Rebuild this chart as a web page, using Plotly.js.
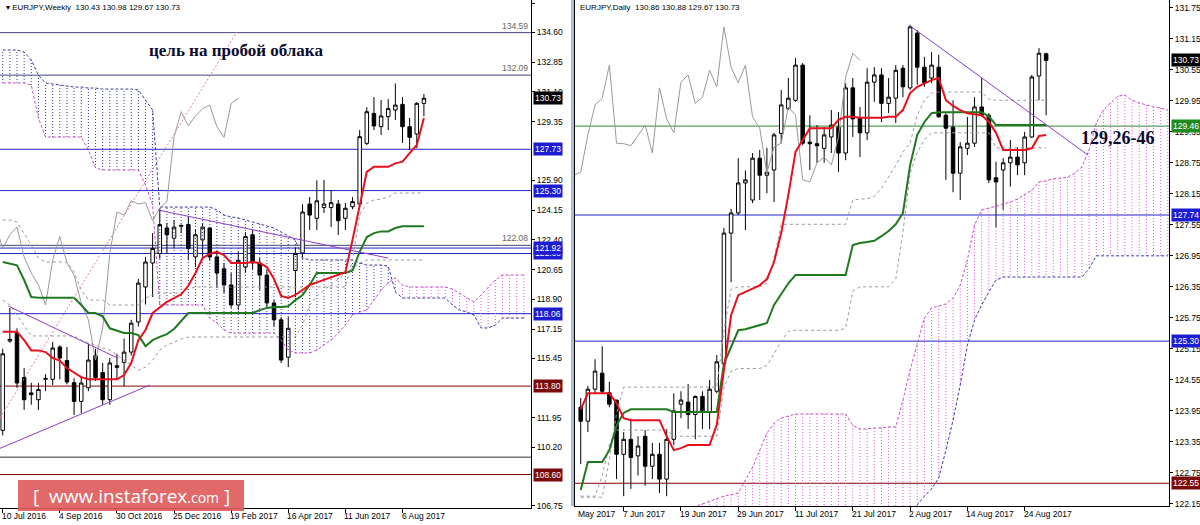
<!DOCTYPE html>
<html><head><meta charset="utf-8">
<script src="https://cdn.plot.ly/plotly-3.0.1.min.js"></script>
<style>html,body{margin:0;padding:0;background:#fff}#chart{width:1200px;height:525px}</style>
</head><body><div id="chart"></div>
<script>
// ===== WEEKLY (left) =====
const wkTickIdx = [0,8,16,24,32,40,48,56];
const wkTickText = ["10 Jul 2016","4 Sep 2016","30 Oct 2016","25 Dec 2016","19 Feb 2017","16 Apr 2017","11 Jun 2017","6 Aug 2017"];
const wkOpen  = [111.2,116.45,116.92,114.3,113.4,113.0,114.2,114.2,116.1,115.3,114.0,112.9,113.7,115.6,114.6,113.0,114.9,115.2,115.8,117.57,119.63,121.04,121.6,123.1,122.5,123.2,123.3,121.4,122.4,123.1,121.4,120.7,119.75,118.57,120.8,122.7,121.04,120.33,118.69,117.7,115.5,120.6,121.63,124.51,123.67,124.3,124.3,124.51,123.67,124.35,124.51,128.08,129.84,129.06,129.65,130.04,130.37,129.06,128.63,130.43];
const wkHigh  = [116.0,118.4,117.2,114.86,114.0,113.98,114.5,116.4,116.2,116.1,114.27,114.4,116.3,116.0,115.16,115.45,115.7,116.6,117.7,120.1,121.4,122.8,124.27,123.4,123.57,123.3,123.75,122.98,123.4,123.15,121.7,121.04,120.45,121.7,122.86,122.98,121.33,120.63,118.86,117.86,117.86,121.97,124.5,124.92,125.9,125.92,125.33,124.75,124.57,124.92,128.86,130.2,130.8,130.63,130.68,131.6,130.8,129.57,130.5,130.98];
const wkLow   = [110.9,116.35,113.7,112.4,112.7,112.4,113.5,113.86,114.2,113.9,112.1,112.2,113.5,114.1,112.7,112.7,114.2,113.8,115.6,117.3,118.6,119.04,121.3,121.6,121.9,122.8,121.2,120.8,121.4,121.2,119.57,119.27,118.4,118.27,120.45,120.63,119.45,118.45,117.3,115.16,114.92,119.04,121.3,122.98,122.98,123.98,123.16,122.69,122.98,124.2,124.4,127.98,128.86,128.57,128.86,129.45,128.1,127.69,127.8,129.67];
const wkClose = [115.7,116.55,113.98,113.0,113.3,113.6,114.25,116.04,115.45,114.04,112.9,113.98,115.33,114.3,113.0,115.16,115.0,115.8,117.5,119.86,121.1,121.9,123.3,122.7,123.15,123.25,121.9,122.7,123.15,121.4,120.45,119.75,118.57,121.2,122.6,121.04,120.33,118.69,117.7,115.33,117.2,121.6,124.04,123.86,124.7,124.51,124.59,123.53,124.26,124.65,128.47,129.94,129.1,129.69,130.12,130.33,129.06,128.43,130.43,130.73];
const wkTenkan = [117.0,117.0,117.0,116.5,115.9,115.9,115.8,115.45,115.3,114.86,114.57,114.33,114.2,114.2,114.2,114.2,114.2,114.45,115.16,116.5,117.1,118.1,118.45,118.75,118.98,119.2,119.7,120.45,121.33,121.57,121.7,121.5,121.04,121.04,121.04,121.1,121.04,120.8,120.1,119.1,118.98,119.16,119.45,119.75,119.9,120.04,120.2,120.33,120.5,122.4,124.45,126.4,126.7,126.7,126.7,126.9,127.0,127.5,127.98,129.57];
const wkKijun = [121.1,121.0,120.9,120.04,119.04,119.0,119.0,119.0,119.0,119.0,119.0,118.57,118.1,118.1,117.9,117.2,117.04,116.92,116.92,116.8,116.15,116.5,116.7,116.86,117.16,117.63,118.1,118.1,118.1,118.1,118.1,118.1,118.1,118.1,118.1,118.1,118.27,118.4,118.45,118.45,118.5,118.86,119.16,119.75,120.45,120.45,120.45,120.45,120.45,120.6,121.7,122.57,122.8,122.9,122.9,123.1,123.2,123.2,123.2,123.2];
const wkGrey1 = [123.57,123.57,123.45,122.8,122.1,121.33,121.1,121.1,121.1,121.1,120.51,119.45,118.86,118.86,118.86,118.57,118.57,118.57,118.57,118.57,118.98,119.16,119.27,119.27,119.27,119.27,119.51,119.63,119.63,119.63,119.63,119.63,119.63,119.63,119.63,119.63,119.63,119.63,119.63,119.63,119.63,119.63,119.63,119.63,119.63,119.63,119.63,119.63,119.63,121.22,123.86,124.57,124.75,124.8,124.92,125.16,125.16,125.16,125.16,125.16];
const wkGrey2 = [118.86,118.57,117.98,117.4,116.75,116.75,116.75,116.75,116.75,116.75,116.75,116.5,116.33,116.2,116.04,115.92,115.63,115.33,115.04,114.74,114.92,115.33,115.92,116.2,116.39,116.57,116.69,116.69,116.69,116.69,116.69,116.69,116.69,116.69,116.69,116.69,116.69,116.69,116.69,116.69,116.69,116.69,117.4,118.57,119.1,119.45,119.8,120.1,120.4,120.75,121.04,121.22,121.22,121.22,121.22,121.22,121.22,121.22,121.22,121.22];
const wkSpanA = [131.63,131.63,131.63,131.63,131.51,129.57,128.45,128.45,128.45,128.45,128.45,128.45,127.69,126.63,126.51,126.51,126.51,126.51,126.51,126.51,125.63,124.45,118.57,118.57,118.57,118.57,118.57,118.57,118.57,117.8,117.51,117.1,116.92,116.92,116.92,116.92,116.92,116.92,116.92,116.51,115.92,115.75,115.75,115.75,115.92,116.22,116.51,116.92,117.39,117.98,118.16,118.27,118.86,119.45,119.86,
  120.16,119.75,119.63,119.63,119.63,119.63,119.63,119.63,119.51,119.27,118.98,118.75,119.16,119.63,120.04,120.33,120.33,120.33,120.33];
const wkSpanB = [133.57,133.57,133.57,133.45,132.98,132.10,131.63,131.57,131.51,131.45,131.39,131.39,131.33,131.33,131.27,131.27,131.27,131.27,131.27,131.22,130.63,130.04,124.33,124.33,124.33,124.33,124.33,124.33,124.33,124.33,124.16,123.86,123.75,123.69,123.57,123.45,123.33,123.22,123.10,122.86,122.63,122.39,121.33,121.22,121.22,121.22,121.22,121.22,121.22,121.22,121.04,120.92,120.92,120.92,120.86,
  119.33,118.98,118.98,118.98,118.98,118.98,118.98,118.98,118.57,118.27,118.16,117.98,117.22,117.22,117.39,117.8,117.8,117.8,117.8];
const wkYTicks = [136.30,134.60,132.85,131.10,129.35,125.90,124.15,122.40,120.65,118.90,117.15,115.45,111.95,110.20,106.75];
const wkLevels = [134.59,132.09,127.73,125.30,122.08,121.60,121.92,118.06,113.80,109.62,108.60];
const wkLevelKind = ["text","text","blue","blue","text","blue","blue","blue","red","plain","red"];
const wkTrendA = [[0.79,118.51],[-0.38,110.14],[21.75,124.16]];
const wkTrendB = [[16.2,115.43],[20.6,113.86],[54.0,121.33]];
const wkTargetLine = [[-0.38,111.92],[32.8,134.63]];
const wkHeader = "EURJPY,Weekly  130.43 130.98 129.67 130.73";
const wkNote = "цель на пробой облака";

// ===== DAILY (right) =====
const dStart = -22;
const dTickIdx = [-16,-8,0,8,16,24,32,40];
const dTickText = ["7 Jun 2017","19 Jun 2017","29 Jun 2017","11 Jul 2017","21 Jul 2017","2 Aug 2017","14 Aug 2017","24 Aug 2017"];
const dOpen  = [124.02,123.75,124.37,124.68,124.3,124.16,123.11,123.4,123.08,123.46,122.88,123.11,122.63,123.4,124.08,124.12,123.88,124.23,123.93,124.33,124.86,127.39,127.78,128.36,128.03,128.84,128.51,128.61,129.32,129.8,129.96,130.64,129.15,129.12,129.03,129.25,129.44,128.94,130.2,129.62,129.33,130.31,130.45,129.9,130.0,130.58,130.2,131.26,130.6,130.39,130.6,129.67,129.44,128.55,129.03,129.13,129.83,129.67,128.46,128.61,128.75,128.86,128.75,129.25,130.43,130.86];
const dHigh  = [124.2,124.43,124.95,125.2,124.51,124.16,123.54,123.8,123.46,123.58,123.33,123.33,123.6,124.29,124.33,124.47,124.25,124.33,124.55,125.03,127.49,127.86,128.84,128.6,128.94,129.0,129.04,129.33,130.16,130.39,130.78,130.68,129.67,129.48,129.44,129.77,129.73,130.29,130.39,129.83,130.58,130.6,130.58,130.39,130.64,130.64,131.42,131.32,130.8,130.89,130.84,129.71,129.96,129.15,129.64,130.02,130.39,129.71,128.77,128.84,129.19,129.05,129.35,130.45,130.97,130.88];
const dLow   = [122.92,123.54,124.29,124.29,124.02,122.63,122.3,122.44,122.7,122.5,122.63,122.36,122.3,123.29,123.81,123.6,123.4,123.6,123.6,124.29,124.8,126.44,127.74,127.45,127.97,128.03,128.16,127.99,129.13,129.77,129.93,129.09,128.61,128.75,128.75,128.94,128.57,128.8,129.25,128.86,129.19,129.93,129.54,129.71,129.52,130.02,130.16,130.26,130.22,130.29,129.62,128.42,128.18,128.03,128.9,129.06,129.64,128.36,127.5,127.84,128.29,128.51,128.51,129.23,129.96,129.67];
const dClose = [123.75,124.37,124.72,124.33,124.08,123.11,123.4,123.05,123.27,122.88,123.11,122.63,123.4,123.95,124.16,123.88,124.23,123.95,124.37,124.9,127.39,127.78,128.36,128.42,128.84,128.51,128.57,129.29,129.87,130.0,130.64,129.13,129.12,129.08,129.29,129.48,128.94,130.2,129.6,129.33,130.31,130.45,129.9,130.02,130.54,130.22,131.38,130.6,130.3,130.64,129.64,129.42,128.55,129.06,129.13,129.83,129.67,128.42,128.38,128.75,128.86,128.71,129.25,130.41,130.87,130.73];
const dTenkan = [123.98,124.29,124.29,124.29,124.29,124.1,123.81,123.77,123.77,123.77,123.77,123.77,123.46,123.19,123.23,123.29,123.29,123.29,123.29,123.68,124.7,125.8,126.19,126.25,126.31,126.38,126.5,126.83,127.39,128.13,128.96,129.19,129.42,129.42,129.42,129.42,129.58,129.64,129.64,129.62,129.62,129.62,129.62,129.64,129.64,129.77,130.1,130.22,130.29,130.35,130.39,129.96,129.85,129.77,129.71,129.69,129.67,129.54,129.33,129.0,129.0,129.0,129.0,129.03,129.27,129.29];
const dKijun = [122.42,122.96,122.96,122.96,123.19,123.67,123.91,123.98,123.98,123.98,123.98,123.98,123.98,123.93,123.93,123.93,123.93,123.93,123.93,123.93,124.86,125.2,125.51,125.53,125.57,125.61,125.65,126.0,126.21,126.42,126.58,126.58,126.58,126.58,126.58,126.58,126.58,126.58,127.16,127.2,127.22,127.24,127.33,127.43,127.56,127.78,128.7,129.29,129.54,129.71,129.73,129.73,129.73,129.73,129.73,129.73,129.73,129.65,129.48,129.48,129.48,129.48,129.48,129.48,129.48,129.48];
const dGrey1 = [122.28,122.28,122.28,122.28,123.0,123.9,124.41,124.41,124.41,124.41,124.41,124.41,124.41,124.41,124.41,124.41,124.41,124.41,124.41,124.41,125.5,126.3,126.35,126.35,126.35,126.35,126.42,126.9,127.56,127.56,127.56,127.56,127.56,127.56,127.56,127.56,127.56,127.56,128.03,128.05,128.05,128.1,128.26,128.47,128.7,128.96,129.13,129.67,129.96,130.1,130.12,130.12,130.12,130.12,130.12,130.12,130.12,129.98,129.96,129.96,129.96,129.96,129.96,129.96,129.96,129.96];
const dGrey2 = [122.3,122.3,122.3,122.7,123.3,123.58,123.58,123.58,123.58,123.58,123.58,123.58,123.58,123.46,123.46,123.46,123.46,123.46,123.46,123.46,124.4,124.72,124.77,124.77,124.77,124.77,124.83,125.05,125.3,125.49,125.51,125.51,125.51,125.51,125.51,125.51,125.51,125.55,126.27,126.35,126.35,126.35,126.35,126.35,126.5,127.4,128.55,128.95,129.2,129.33,129.33,129.33,129.33,129.33,129.33,129.33,129.33,129.33,129.04,129.04,129.04,129.04,129.04,129.04,129.04,129.04];
const dCloudStart = -7;
const dSpanA = [122.05,122.1,122.15,122.2,122.25,122.3,122.33,122.36,122.61,122.86,123.19,123.52,123.71,123.81,123.85,123.89,123.89,123.89,123.89,123.89,123.89,123.89,123.89,123.67,123.6,123.6,123.62,123.62,123.64,123.64,124.16,124.74,125.26,125.75,125.94,125.98,126.02,126.13,126.38,126.87,127.55,127.84,127.87,127.91,127.95,127.99,128.05,128.13,128.22,128.38,128.4,128.44,128.46,128.47,128.55,128.67,129.0,129.52,129.77,129.91,130.04,130.06,129.96,129.91,129.87,129.83,129.81,129.77];
const dSpanB = [121.9,121.9,121.9,121.9,121.9,121.9,121.9,121.9,121.9,121.9,121.9,121.9,121.9,121.9,121.9,121.9,121.9,121.9,121.9,121.9,121.9,121.9,121.9,121.9,121.9,121.9,121.9,121.9,121.9,121.9,121.9,121.9,122.13,122.3,122.44,122.65,123.19,123.77,124.45,125.22,125.71,126.0,126.25,126.48,126.54,126.54,126.54,126.54,126.54,126.54,126.54,126.54,126.54,126.54,126.54,126.54,126.7,126.95,126.95,126.95,126.95,126.95,126.95,126.95,126.95,126.95,126.95,126.95];
const dYTicks = [131.75,131.15,130.55,129.95,129.35,128.75,128.15,127.55,126.95,126.35,125.75,125.15,124.55,123.95,123.35,122.75,122.15];
const dLevels = [129.46,127.74,125.30,122.55];
const dLevelKind = ["green","blue","blue","red"];
const dTrend = [[24.0,131.40],[48.85,128.9]];
const dHeader = "EURJPY,Daily  130.86 130.88 129.67 130.73";
const dNote = "129,26-46";
const lastPrice = 130.73;

// ===== helpers =====
const FONT = 'Liberation Sans, Arial, sans-serif';
const PINK = '#e04ee0', BLUE = '#34349e';
const wkX = wkOpen.map((_, i) => i);
const dX = dOpen.map((_, i) => i + dStart);
const wkCloudX = wkSpanA.map((_, i) => i);
const dCloudX = dSpanA.map((_, i) => i + dCloudStart);

function cloudSegs(xs, A, B, up) {
  const x = [], y = [];
  xs.forEach((xv, n) => {
    if ((A[n] >= B[n]) === up) { x.push(xv, xv, null); y.push(A[n], B[n], null); }
  });
  return {x, y};
}
function lineTrace(x, y, xa, ya, color, width, dash) {
  return {type:'scatter', mode:'lines', x, y, xaxis:xa, yaxis:ya, hoverinfo:'skip', showlegend:false,
          line:{color, width, dash: dash || 'solid', shape:'linear'}};
}
function cloudTraces(xs, A, B, xa, ya) {
  const up = cloudSegs(xs, A, B, true), dn = cloudSegs(xs, A, B, false);
  return [
    lineTrace(up.x, up.y, xa, ya, PINK, 1, '1px,2px'),
    lineTrace(dn.x, dn.y, xa, ya, BLUE, 1, '1px,2px'),
    lineTrace(xs, A, xa, ya, '#c850c8', 1, '3px,2px'),
    lineTrace(xs, B, xa, ya, '#3c3ca0', 1, '3px,2px')
  ];
}
function candle(x, o, h, l, c, xa, ya) {
  return {type:'candlestick', x, open:o, high:h, low:l, close:c, xaxis:xa, yaxis:ya,
    increasing:{line:{color:'#000', width:1}, fillcolor:'#ffffff'},
    decreasing:{line:{color:'#000', width:1}, fillcolor:'#000000'},
    whiskerwidth:0, hoverinfo:'skip', showlegend:false};
}

const traces = [];
traces.push(...cloudTraces(wkCloudX, wkSpanA, wkSpanB, 'x', 'y'));
const wkChX = [], wkChY = [];
for (let i = 25; i < wkClose.length; i++) { wkChX.push(i - 26); wkChY.push(wkClose[i]); }
traces.push(lineTrace(wkChX, wkChY, 'x', 'y', '#9a9a9a', 1));
traces.push(lineTrace(wkX, wkGrey1, 'x', 'y', '#9a9a9a', 1, '3px,3px'));
traces.push(lineTrace(wkX, wkGrey2, 'x', 'y', '#9a9a9a', 1, '3px,3px'));
traces.push(candle(wkX, wkOpen, wkHigh, wkLow, wkClose, 'x', 'y'));
traces.push(lineTrace(wkX, wkKijun, 'x', 'y', '#1f7a1f', 2));
traces.push(lineTrace(wkX, wkTenkan, 'x', 'y', '#e8101c', 2));
traces.push(...cloudTraces(dCloudX, dSpanA, dSpanB, 'x2', 'y2'));
const dChX = [], dChY = [];
for (let i = 0; i < dClose.length; i++) { const k = dX[i] - 26; if (k >= dStart - 1) { dChX.push(k); dChY.push(dClose[i]); } }
traces.push(lineTrace(dChX, dChY, 'x2', 'y2', '#9a9a9a', 1));
traces.push(lineTrace(dX, dGrey1, 'x2', 'y2', '#9a9a9a', 1, '3px,3px'));
traces.push(lineTrace(dX, dGrey2, 'x2', 'y2', '#9a9a9a', 1, '3px,3px'));
traces.push(candle(dX, dOpen, dHigh, dLow, dClose, 'x2', 'y2'));
traces.push(lineTrace(dX, dKijun, 'x2', 'y2', '#1f7a1f', 2));
traces.push(lineTrace(dX, dTenkan, 'x2', 'y2', '#e8101c', 2));

// ===== shapes & annotations =====
const shapes = [], annotations = [];
const kindColor = {blue:'#2222cc', red:'#800000', green:'#2e8b2e', text:'#45457a', plain:'#333333'};
const boxColor = {blue:'#1c1cd0', red:'#7a0a0a', green:'#1f8a1f'};
function boxLabel(xp, yref, val, bg) {
  annotations.push({xref:'paper', x:xp, xanchor:'left', yref, y:val, yanchor:'middle',
    text:val.toFixed(2), showarrow:false, bgcolor:bg, borderpad:1,
    font:{family:FONT, size:8.5, color:'#ffffff'}});
}
wkLevels.forEach((v, n) => {
  const kind = wkLevelKind[n];
  shapes.push({type:'line', xref:'x domain', yref:'y', x0:0, x1:1, y0:v, y1:v, layer:'below',
               line:{color:kindColor[kind], width:1}});
  if (kind === 'text') {
    annotations.push({xref:'paper', x:530/1200, xanchor:'right', yref:'y', y:v, yanchor:'bottom',
      text:v.toFixed(2), showarrow:false, font:{family:FONT, size:8.5, color:'#666'}});
  } else if (boxColor[kind]) boxLabel(533/1200, 'y', v, boxColor[kind]);
});
boxLabel(533/1200, 'y', lastPrice, '#000');
dLevels.forEach((v, n) => {
  const kind = dLevelKind[n];
  shapes.push({type:'line', xref:'x2 domain', yref:'y2', x0:0, x1:1, y0:v, y1:v, layer:'below',
               line:{color:kindColor[kind], width:1}});
  boxLabel(1171/1200, 'y2', v, boxColor[kind]);
});
boxLabel(1171/1200, 'y2', lastPrice, '#000');

[0,1,2].forEach(n => shapes.push({type:'line', xref:'x', yref:'y',
  x0:wkTrendA[n][0], y0:wkTrendA[n][1], x1:wkTrendB[n][0], y1:wkTrendB[n][1], line:{color:'#8a3ec8', width:1}}));
shapes.push({type:'line', xref:'x', yref:'y', x0:wkTargetLine[0][0], y0:wkTargetLine[0][1],
  x1:wkTargetLine[1][0], y1:wkTargetLine[1][1], line:{color:'#e07ab0', width:1, dash:'2px,2px'}});
shapes.push({type:'line', xref:'x2', yref:'y2', x0:dTrend[0][0], y0:dTrend[0][1], x1:dTrend[1][0], y1:dTrend[1][1],
  line:{color:'#8a3ec8', width:1}});
shapes.push({type:'rect', xref:'paper', yref:'paper', x0:571/1200, x1:574/1200, y0:19/525, y1:1,
  fillcolor:'#a9bcd8', line:{width:0}, layer:'above'});
shapes.push({type:'rect', xref:'paper', yref:'paper', x0:18/1200, x1:244/1200, y0:1-511/525, y1:1-480/525,
  fillcolor:'rgba(222,92,92,0.92)', line:{width:0}, layer:'above'});
annotations.push({xref:'paper', yref:'paper', x:131/1200, y:1-495.5/525, xanchor:'center', yanchor:'middle',
  text:'[ &nbsp;www.instaforex<span style="font-size:14px">.com</span> ]', showarrow:false,
  font:{family:'Open Sans, Liberation Sans, sans-serif', size:19, color:'#ffffff'}});

// x-axis date labels, left-aligned at their tick like the terminal draws them
wkTickIdx.forEach((t, n) => annotations.push({xref:'x', yref:'paper', x:t, xanchor:'left', xshift:-3,
  y:1-516/525, yanchor:'middle', text:wkTickText[n], showarrow:false, font:{family:FONT, size:8.5, color:'#000'}}));
dTickIdx.forEach((t, n) => annotations.push({xref:'x2', yref:'paper', x:t, xanchor:'left', xshift:-3,
  y:1-514/525, yanchor:'middle', text:dTickText[n], showarrow:false, font:{family:FONT, size:8.5, color:'#000'}}));
annotations.push({xref:'paper', yref:'paper', x:576/1200, y:1-514/525, xanchor:'left', yanchor:'middle',
  text:'May 2017', showarrow:false, font:{family:FONT, size:8.5, color:'#000'}});

annotations.push({xref:'paper', yref:'paper', x:4/1200, y:1-1/525, xanchor:'left', yanchor:'top',
  text:'▾ ' + wkHeader, showarrow:false, font:{family:FONT, size:8, color:'#000'}});
annotations.push({xref:'paper', yref:'paper', x:578/1200, y:1-1/525, xanchor:'left', yanchor:'top',
  text:dHeader, showarrow:false, font:{family:FONT, size:8, color:'#000'}});
annotations.push({xref:'paper', yref:'paper', x:236/1200, y:1-50/525, xanchor:'center', yanchor:'middle',
  text:'<b>' + wkNote + '</b>', showarrow:false, font:{family:'Liberation Serif, Times New Roman, serif', size:17, color:'#0a0a2e'}});
annotations.push({xref:'paper', yref:'paper', x:1118/1200, y:1-138/525, xanchor:'center', yanchor:'middle',
  text:'<b>' + dNote + '</b>', showarrow:false, font:{family:'Liberation Serif, Times New Roman, serif', size:18, color:'#0a0a2e'}});

const axFont = {family:FONT, size:8.5, color:'#000'};
function xAx(domain, range, tv) {
  return {domain, range, type:'linear', tickvals:tv, showticklabels:false, ticks:'outside', ticklen:4, tickcolor:'#000',
    showgrid:false, zeroline:false, showline:true, mirror:true,
    linecolor:'#000', linewidth:1, rangeslider:{visible:false}, fixedrange:true};
}
function yAx(domain, range, tv, anchor) {
  return {domain, range, anchor, side:'right', tickvals:tv, ticktext:tv.map(v => v.toFixed(2)), ticks:'outside',
    ticklen:3, tickcolor:'#000', tickfont:axFont, showgrid:false, zeroline:false, showline:true, mirror:true,
    linecolor:'#000', linewidth:1, fixedrange:true};
}

const layout = {
  width:1200, height:525, margin:{l:0, r:0, t:0, b:0}, paper_bgcolor:'#fff', plot_bgcolor:'#fff',
  showlegend:false, hovermode:false,
  xaxis: Object.assign(xAx([0, 531/1200], [-0.38, 74.0], wkTickIdx), {anchor:'y'}),
  yaxis: yAx([17/525, 1], [106.63, 136.51], wkYTicks, 'x'),
  xaxis2: Object.assign(xAx([575/1200, 1169/1200], [-22.8, 60.16], dTickIdx), {anchor:'y2'}),
  yaxis2: yAx([19/525, 1], [122.11, 131.90], dYTicks, 'x2'),
  shapes, annotations
};
Plotly.newPlot('chart', traces, layout, {staticPlot:true, displayModeBar:false});
</script></body></html>
